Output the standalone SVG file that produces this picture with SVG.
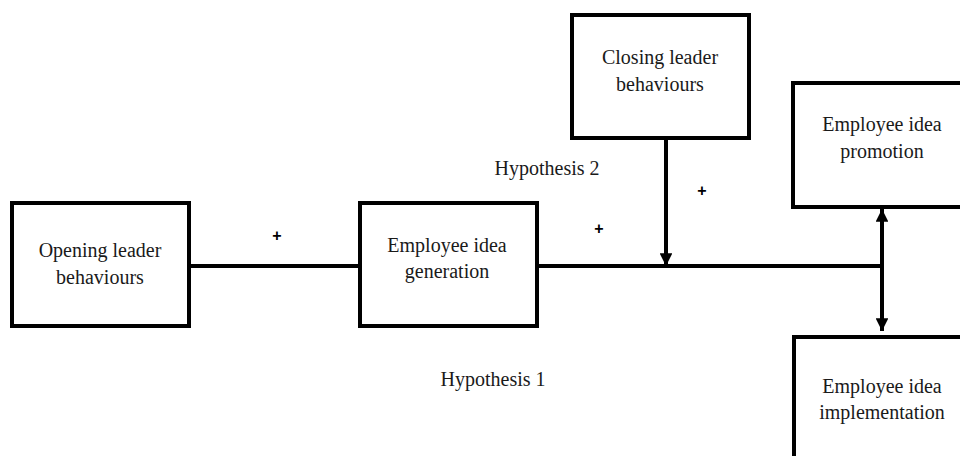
<svg xmlns="http://www.w3.org/2000/svg" width="960" height="456" viewBox="0 0 960 456">
<style>
.box{fill:#fff;stroke:#000;stroke-width:4}
.t{font-family:"Liberation Serif","Times New Roman",serif;font-size:20px;fill:#1a1a1a;text-anchor:middle}
.p{font-family:"Liberation Sans",Arial,sans-serif;font-size:16px;font-weight:bold;fill:#000;text-anchor:middle}
.c{stroke:#000;stroke-width:4;fill:none}
</style>
<defs>
<marker id="ah" viewBox="0 0 10 10" refX="10" refY="5" markerWidth="3.2" markerHeight="3.2" orient="auto" markerUnits="strokeWidth">
<path d="M0,0 L10,5 L0,10 z" fill="#000"/>
</marker>
</defs>
<g id="connectors">
<line class="c" x1="189" y1="266" x2="360" y2="266"/>
<line class="c" x1="537" y1="266" x2="882" y2="266"/>
<line class="c" x1="666" y1="138" x2="666" y2="266" marker-end="url(#ah)"/>
<line class="c" x1="882" y1="266" x2="882" y2="209" marker-end="url(#ah)"/>
<line class="c" x1="882" y1="266" x2="882" y2="331" marker-end="url(#ah)"/>
</g>
<g id="opening">
<rect class="box" x="12" y="203" width="177" height="123"/>
<text class="t" x="100" y="257">Opening leader</text>
<text class="t" x="100" y="284">behaviours</text>
</g>
<g id="generation">
<rect class="box" x="360" y="203" width="177" height="123"/>
<text class="t" x="447" y="252">Employee idea</text>
<text class="t" x="447" y="278">generation</text>
</g>
<g id="closing">
<rect class="box" x="572" y="15" width="177" height="123"/>
<text class="t" x="660" y="64">Closing leader</text>
<text class="t" x="660" y="91">behaviours</text>
</g>
<g id="promotion">
<rect class="box" x="793" y="83" width="177" height="124"/>
<text class="t" x="882" y="131">Employee idea</text>
<text class="t" x="882" y="158">promotion</text>
</g>
<g id="implementation">
<rect class="box" x="794" y="337" width="177" height="130"/>
<text class="t" x="882" y="393">Employee idea</text>
<text class="t" x="882" y="419">implementation</text>
</g>
<g id="labels">
<text class="t" x="547" y="175">Hypothesis 2</text>
<text class="t" x="493" y="386">Hypothesis 1</text>
<text class="p" x="277" y="241">+</text>
<text class="p" x="599" y="234">+</text>
<text class="p" x="702" y="196">+</text>
</g>
</svg>
